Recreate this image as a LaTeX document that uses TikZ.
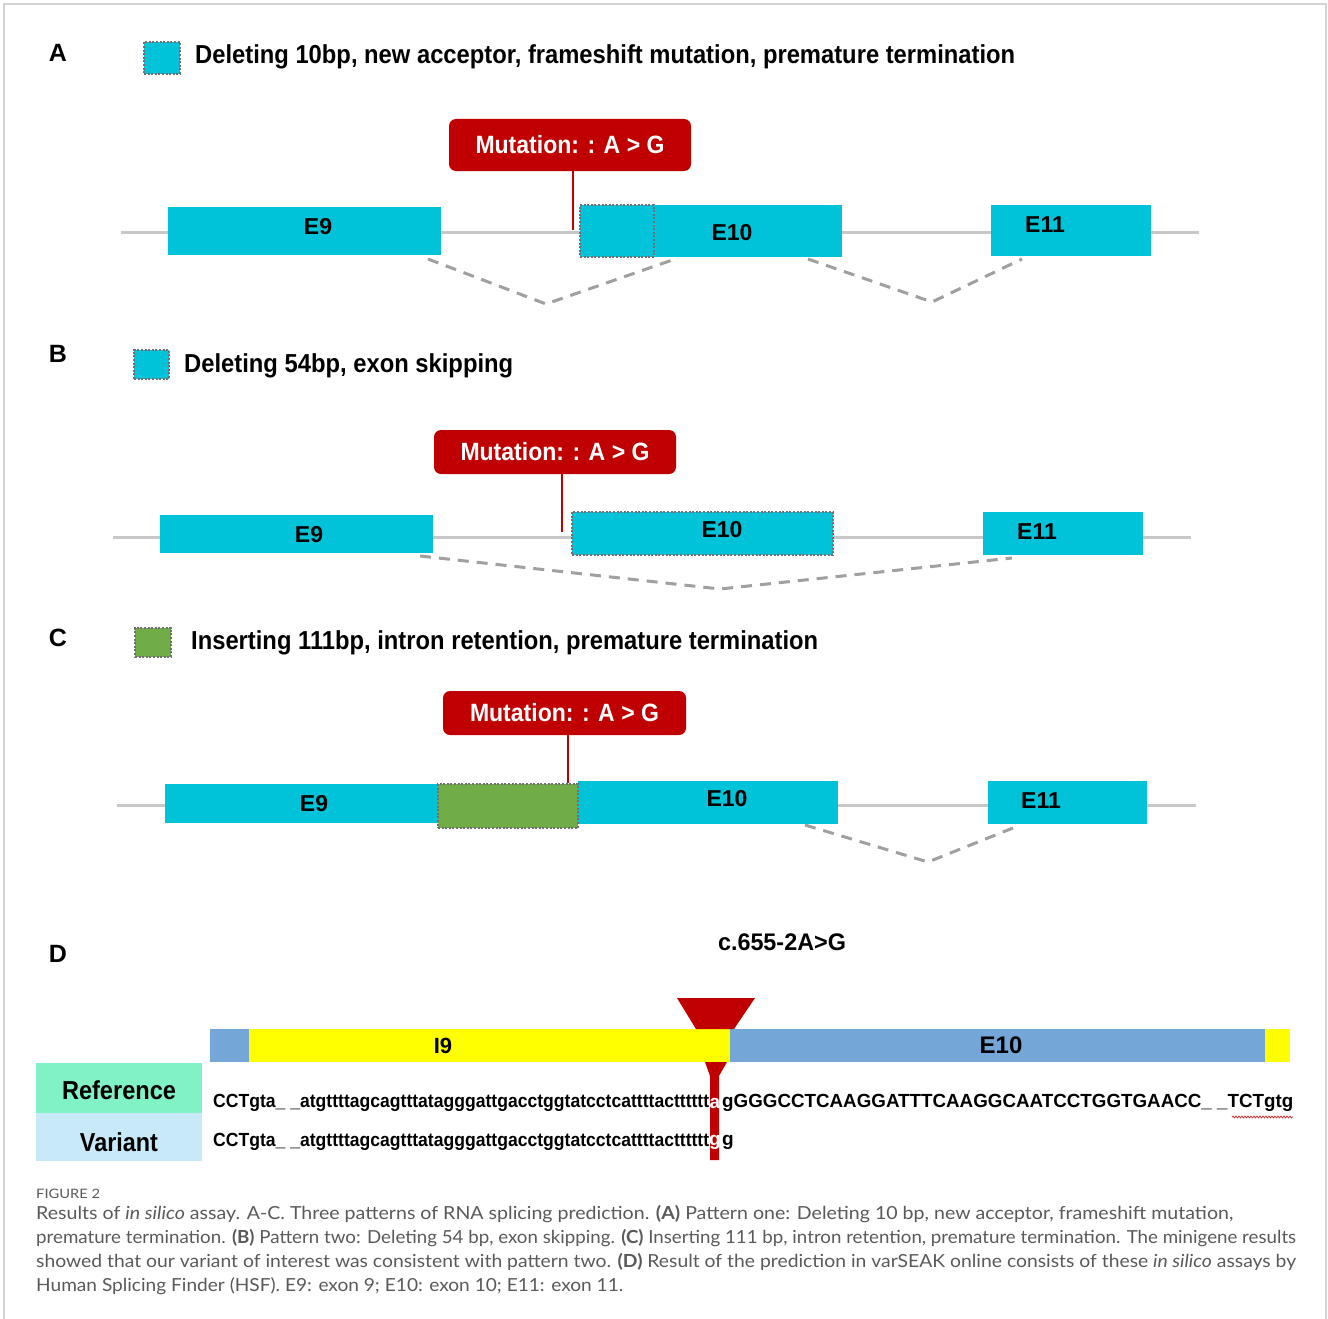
\documentclass[tikz,border=0pt]{standalone}
\usepackage{fontspec}
\setmainfont{Liberation Sans}
\newfontfamily\capfont{Lato}
\usetikzlibrary{decorations.pathmorphing}
\definecolor{exc}{HTML}{00C2D9}
\definecolor{mred}{HTML}{C00000}
\definecolor{intr}{HTML}{C8C8C8}
\definecolor{splc}{HTML}{A0A0A0}
\definecolor{ins}{HTML}{70AD47}
\definecolor{ylw}{HTML}{FFFF00}
\definecolor{dblue}{HTML}{74A7D8}
\definecolor{refc}{HTML}{80F2C6}
\definecolor{varc}{HTML}{C8EAF8}
\definecolor{capc}{HTML}{5A5A5A}
\definecolor{dotc}{HTML}{707070}
\newcommand\fw[2]{\resizebox{#1pt}{\height}{#2}}
\tikzset{
  exon/.style={fill=exc, draw=none, inner sep=0pt, outer sep=0pt},
  dotbox/.style={draw=dotc, dash pattern=on 2pt off 1.6pt, line width=2pt, inner sep=0pt, outer sep=0pt},
  mutbox/.style={fill=mred, rounded corners=7pt, inner sep=0pt, text=white, font=\bfseries\fontsize{25}{27}\selectfont},
  exlab/.style={font=\bfseries\fontsize{23}{25}\selectfont, inner sep=0pt},
  panlab/.style={font=\bfseries\fontsize{25}{27}\selectfont, inner sep=0pt},
  legtxt/.style={font=\bfseries\fontsize{26}{28}\selectfont, anchor=west, inner sep=0pt},
  intron/.style={draw=intr, line width=3pt},
  splice/.style={draw=splc, line width=3pt, dash pattern=on 11pt off 8pt},
  mutline/.style={draw=mred, line width=2.5pt},
  seq/.style={font=\bfseries\fontsize{19}{21}\selectfont, anchor=west, inner sep=0pt},
  captxt/.style={font=\capfont\fontsize{18}{20}\selectfont, text=capc, anchor=west, inner sep=0pt},
}
\begin{document}
\begin{tikzpicture}[x=1pt,y=-1pt]
\useasboundingbox (0,0) rectangle (1328,1319);
\fill[white] (0,0) rectangle (1328,1319);
\draw[draw=intr!80, line width=1.5pt] (4,1319) -- (4,4) -- (1326,4) -- (1326,1319);

% ---------------- Panel A ----------------
\node[panlab] (labA) at (58,53) {A};
\node[exon, dotbox, fill=exc, minimum width=36pt, minimum height=32pt] (legA) at (162,58) {};
\node[legtxt] (txtA) at (195,57) {\fw{820}{Deleting 10bp, new acceptor, frameshift mutation, premature termination}};
\coordinate (iA0) at (121,232); \coordinate (iA1) at (1199,232);
\draw[intron] (iA0) -- (iA1);
\node[exon, minimum width=273pt, minimum height=48pt] (A9) at (304.5,231) {};
\node[exon, minimum width=262pt, minimum height=52pt] (A10) at (711,231) {};
\node[dotbox, minimum width=74pt, minimum height=52pt] (Adel) at (617,231) {};
\node[exon, minimum width=160pt, minimum height=51pt] (A11) at (1071,230.5) {};
\node[exlab] (A9t) at (318,227) {E9};
\node[exlab] (A10t) at (732,233) {E10};
\node[exlab] (A11t) at (1045,225) {E11};
\node[mutbox, minimum width=242pt, minimum height=52pt] (mutA) at (570,145) {\fw{189}{Mutation: : A > G}};
\coordinate (mA) at (573,230);
\draw[mutline] (mutA.south -| mA) -- (mA);
\coordinate (sA1) at (428,259); \coordinate (sA2) at (546,304); \coordinate (sA3) at (678,258);
\coordinate (sA4) at (808,259); \coordinate (sA5) at (932,302); \coordinate (sA6) at (1022,259);
\draw[splice] (sA1) -- (sA2) -- (sA3);
\draw[splice] (sA4) -- (sA5) -- (sA6);

% ---------------- Panel B ----------------
\node[panlab] (labB) at (58,354) {B};
\node[exon, dotbox, fill=exc, minimum width=35pt, minimum height=29pt] (legB) at (151.5,364.5) {};
\node[legtxt] (txtB) at (184,366) {\fw{329}{Deleting 54bp, exon skipping}};
\coordinate (iB0) at (113,537); \coordinate (iB1) at (1191,537);
\draw[intron] (iB0) -- (iB1);
\node[exon, minimum width=273pt, minimum height=38pt] (B9) at (296.5,534) {};
\node[exon, dotbox, fill=exc, minimum width=261pt, minimum height=43pt] (B10) at (702.5,533.5) {};
\node[exon, minimum width=160pt, minimum height=43pt] (B11) at (1063,533.5) {};
\node[exlab] (B9t) at (309,535) {E9};
\node[exlab] (B10t) at (722,530) {E10};
\node[exlab] (B11t) at (1037,532) {E11};
\node[mutbox, minimum width=242pt, minimum height=44pt] (mutB) at (555,452) {\fw{189}{Mutation: : A > G}};
\coordinate (mB) at (562,532);
\draw[mutline] (mutB.south -| mB) -- (mB);
\coordinate (sB1) at (420,556); \coordinate (sB2) at (720,589); \coordinate (sB3) at (1012,558);
\draw[splice] (sB1) -- (sB2) -- (sB3);

% ---------------- Panel C ----------------
\node[panlab] (labC) at (58,638) {C};
\node[exon, dotbox, fill=ins, minimum width=36pt, minimum height=29pt] (legC) at (153,642.5) {};
\node[legtxt] (txtC) at (191,643) {\fw{627}{Inserting 111bp, intron retention, premature termination}};
\coordinate (iC0) at (117,805); \coordinate (iC1) at (1196,805);
\draw[intron] (iC0) -- (iC1);
\node[exon, minimum width=273pt, minimum height=39pt] (C9) at (301.5,803.5) {};
\node[exon, minimum width=260pt, minimum height=43pt] (C10) at (708,802.5) {};
\node[exon, dotbox, fill=ins, minimum width=140pt, minimum height=44pt] (Cins) at (508,806) {};
\node[exon, minimum width=159pt, minimum height=43pt] (C11) at (1067.5,802.5) {};
\node[exlab] (C9t) at (314,804) {E9};
\node[exlab] (C10t) at (727,799) {E10};
\node[exlab] (C11t) at (1041,801) {E11};
\node[mutbox, minimum width=243pt, minimum height=44pt] (mutC) at (564.5,713) {\fw{189}{Mutation: : A > G}};
\coordinate (mC) at (568,783);
\draw[mutline] (mutC.south -| mC) -- (mC);
\coordinate (sC1) at (805,825); \coordinate (sC2) at (928,862); \coordinate (sC3) at (1018,826);
\draw[splice] (sC1) -- (sC2) -- (sC3);

% ---------------- Panel D ----------------
\node[panlab] (labD) at (58,954) {D};
\node[font=\bfseries\fontsize{24}{26}\selectfont, inner sep=0pt] (hgvs) at (782,942) {\fw{128}{c.655-2A>G}};
\node[fill=dblue, inner sep=0pt, minimum width=39pt, minimum height=33pt] (Dex9) at (229.5,1045.5) {};
\node[fill=ylw, inner sep=0pt, minimum width=481pt, minimum height=33pt] (DI9) at (489.5,1045.5) {};
\node[fill=dblue, inner sep=0pt, minimum width=535pt, minimum height=33pt] (DE10) at (997.5,1045.5) {};
\node[fill=ylw, inner sep=0pt, minimum width=25pt, minimum height=33pt] (DI10) at (1277.5,1045.5) {};
\node[exlab, font=\bfseries\fontsize{22}{24}\selectfont] (DI9t) at (443,1046) {I9};
\node[exlab, font=\bfseries\fontsize{24}{26}\selectfont] (DE10t) at (1001,1045) {E10};
% marker
\fill[mred] (677,998) -- (755,998) -- (734,1029) -- (696,1029) -- cycle;
\fill[mred] (705,1062) -- (727,1062) -- (719,1076) -- (719,1160) -- (710,1160) -- (710,1076) -- cycle;
% row labels
\node[fill=refc, inner sep=0pt, minimum width=166pt, minimum height=50pt] (refbox) at (119,1088) {};
\node[fill=varc, inner sep=0pt, minimum width=166pt, minimum height=48pt] (varbox) at (119,1137) {};
\node[font=\bfseries\fontsize{26}{28}\selectfont, inner sep=0pt] (reft) at (119,1090) {\fw{114}{Reference}};
\node[font=\bfseries\fontsize{26}{28}\selectfont, inner sep=0pt] (vart) at (119,1142) {\fw{78}{Variant}};
% sequences
\node[seq] (ref1) at (213,1103) {\fw{496}{CCTgta\_\ \_atgttttagcagtttatagggattgacctggtatcctcattttactttttt}};
\node[seq, anchor=center, text=white] (refa) at (715,1103) {a};
\node[seq] (ref2) at (722,1103) {\fw{571}{gGGGCCTCAAGGATTTCAAGGCAATCCTGGTGAACC\_\ \_TCTgtg}};
\node[seq] (var1) at (213,1142) {\fw{496}{CCTgta\_\ \_atgttttagcagtttatagggattgacctggtatcctcattttactttttt}};
\node[seq, anchor=center, text=white] (varg) at (715,1142) {g};
\node[seq] (var2) at (722,1142) {g};
\coordinate (w0) at (1232,1117); \coordinate (w1) at (1293,1117);
\draw[mred!80, line width=0.8pt, decorate, decoration={snake, amplitude=0.9pt, segment length=3pt}] (w0) -- (w1);

% ---------------- Caption ----------------
\node[captxt, font=\capfont\fontsize{13}{14}\selectfont] (figno) at (36,1194) {\fw{64}{FIGURE 2}};
\node[captxt] (c1) at (36,1214) {\fw{1197}{Results of \textit{in silico} assay. A-C. Three patterns of RNA splicing prediction. \textbf{(A)} Pattern one: Deleting 10 bp, new acceptor, frameshift mutation,}};
\node[captxt] (c2) at (36,1238) {\fw{1260}{premature termination. \textbf{(B)} Pattern two: Deleting 54 bp, exon skipping. \textbf{(C)} Inserting 111 bp, intron retention, premature termination. The minigene results}};
\node[captxt] (c3) at (36,1262) {\fw{1260}{showed that our variant of interest was consistent with pattern two. \textbf{(D)} Result of the prediction in varSEAK online consists of these \textit{in silico} assays by}};
\node[captxt] (c4) at (36,1286) {\fw{587}{Human Splicing Finder (HSF). E9: exon 9; E10: exon 10; E11: exon 11.}};
\end{tikzpicture}
\end{document}
